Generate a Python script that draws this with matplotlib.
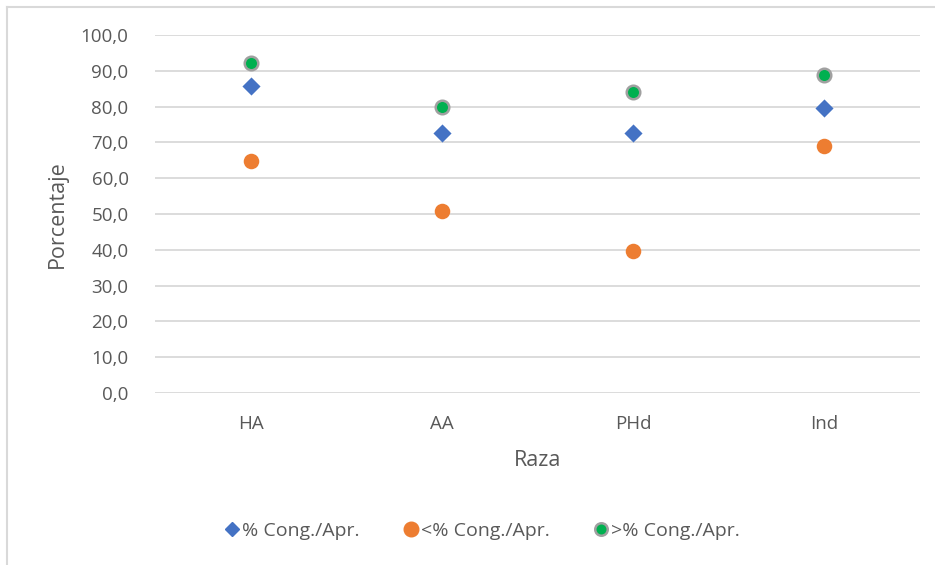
import matplotlib
matplotlib.use("Agg")
import matplotlib.pyplot as plt
from matplotlib.lines import Line2D

razas = ["HA", "AA", "PHd", "Ind"]
pct_cong = [85.8, 72.6, 72.6, 79.6]
pct_menor = [64.8, 50.8, 39.7, 69.0]
pct_mayor = [92.2, 79.9, 84.1, 88.8]
yticks = [0, 10, 20, 30, 40, 50, 60, 70, 80, 90, 100]

plt.rcParams["font.family"] = ["Open Sans", "DejaVu Sans"]
txt = "#595959"

fig = plt.figure(figsize=(9.35, 5.65), dpi=100)
ax = fig.add_axes([155 / 935, 1 - 393 / 565, (920 - 155) / 935, (393 - 35) / 565])

x = list(range(len(razas)))
ax.scatter(x, pct_cong, marker="D", s=85, color="#4472C4", zorder=3, linewidths=0)
ax.scatter(x, pct_menor, marker="o", s=125, color="#ED7D31", zorder=3, linewidths=0)
ax.scatter(x, pct_mayor, marker="o", s=95, color="#00B050", edgecolors="#A0A0A0",
           linewidths=1.8, zorder=3)

ax.set_xlim(-0.5, len(razas) - 0.5)
ax.set_ylim(0, 100)
ax.set_yticks(yticks)
ax.set_yticklabels([f"{v:.1f}".replace(".", ",") for v in yticks], fontsize=13.5, color=txt)
ax.set_xticks(x)
ax.set_xticklabels(razas, fontsize=13.5, color=txt)
ax.tick_params(length=0)
ax.tick_params(axis="y", pad=19)
ax.tick_params(axis="x", pad=16)
ax.grid(axis="y", color="#D9D9D9", linewidth=1.3)
ax.set_axisbelow(True)
for s in ax.spines.values():
    s.set_visible(False)

ax.set_xlabel("Raza", fontsize=15.5, color=txt, labelpad=12)
ax.set_ylabel("Porcentaje", fontsize=15.5, color=txt, labelpad=9)

handles = [
    Line2D([], [], marker="D", color="#4472C4", linestyle="none", markersize=7.5),
    Line2D([], [], marker="o", color="#ED7D31", linestyle="none", markersize=10.5),
    Line2D([], [], marker="o", color="#00B050", markeredgecolor="#A0A0A0",
           markeredgewidth=1.8, linestyle="none", markersize=9),
]
labels = ["% Cong./Apr.", "<% Cong./Apr.", ">% Cong./Apr."]
fig.legend(handles, labels, loc="center", bbox_to_anchor=(481 / 935, 1 - 531 / 565),
           ncol=3, frameon=False, fontsize=14, labelcolor=txt,
           handletextpad=0.05, columnspacing=2.1, handlelength=1.0)

# chart area outline (top and left edges)
fig.add_artist(Line2D([7 / 935, 1], [1 - 7 / 565, 1 - 7 / 565], color="#D9D9D9",
                      linewidth=1.5, transform=fig.transFigure))
fig.add_artist(Line2D([7 / 935, 7 / 935], [0, 1 - 7 / 565], color="#D9D9D9",
                      linewidth=1.5, transform=fig.transFigure))

fig.savefig("out.png", dpi=100, facecolor="white")
